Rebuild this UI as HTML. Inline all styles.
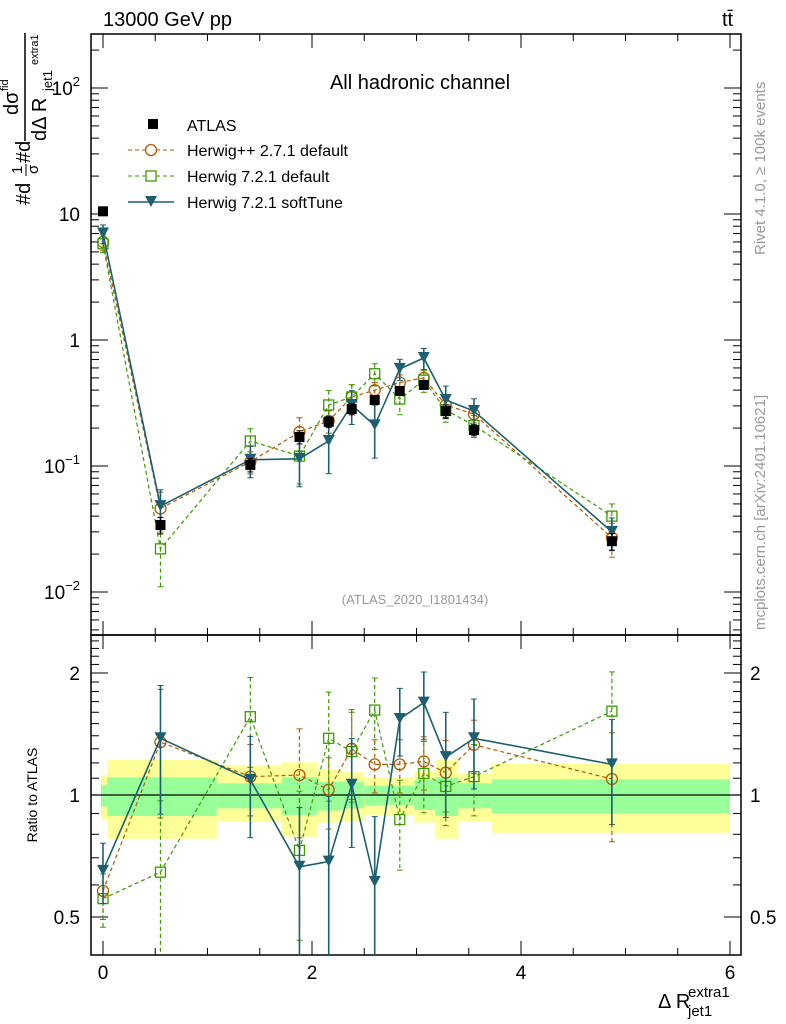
<!DOCTYPE html>
<html><head><meta charset="utf-8"><style>
body{margin:0;background:#fff}
svg{display:block;font-family:"Liberation Sans",sans-serif}
</style></head><body>
<svg id="c" width="786" height="1024" viewBox="0 0 786 1024" xmlns="http://www.w3.org/2000/svg">
<text x="103" y="26" font-size="20">13000 GeV pp</text>
<text x="722" y="26" font-size="20">tt̄</text>
<text x="420" y="89" font-size="20" text-anchor="middle">All hadronic channel</text>
<text x="415" y="604" font-size="13" fill="#999" text-anchor="middle">(ATLAS_2020_I1801434)</text>
<text transform="translate(765,255) rotate(-90)" font-size="15" fill="#999">Rivet 4.1.0, ≥ 100k events</text>
<text transform="translate(765,630) rotate(-90)" font-size="15" fill="#999">mcplots.cern.ch [arXiv:2401.10621]</text>
<g transform="translate(30,205) rotate(-90)">
<text x="0" y="0" font-size="20">#d</text>
<text x="31" y="-8" font-size="15">1</text><line x1="29" y1="-4" x2="41" y2="-4" stroke="#000"/><text x="31" y="8" font-size="15">σ</text>
<text x="42" y="0" font-size="20">#d</text>
<line x1="64" y1="-5" x2="172" y2="-5" stroke="#000" stroke-width="1.5"/>
<text x="90" y="-12" font-size="20">dσ</text><text x="114" y="-22" font-size="11">fid</text>
<text x="64" y="16" font-size="20">dΔ R</text><text x="114" y="22" font-size="13">jet1</text><text x="140" y="8" font-size="11">extra1</text>
</g>
<text transform="translate(37,795) rotate(-90)" font-size="14" text-anchor="middle">Ratio to ATLAS</text>
<g><text x="658" y="1008" font-size="20">Δ R</text><text x="688" y="1016" font-size="15">jet1</text><text x="688" y="997" font-size="15">extra1</text></g>
<g id="bands"></g><g id="axes"></g><g id="marks"></g>
<g>
<g><rect x="148" y="119" width="10" height="10"/><text x="187" y="131" font-size="16">ATLAS</text></g>
<g><line x1="128" y1="150" x2="174" y2="150" stroke="#b35900" stroke-dasharray="4,3"/><circle cx="151" cy="150" r="5.5" fill="#fff" stroke="#b35900" stroke-width="1.3"/><text x="187" y="156" font-size="16">Herwig++ 2.7.1 default</text></g>
<g><line x1="128" y1="176" x2="174" y2="176" stroke="#3a9a00" stroke-dasharray="4,3"/><rect x="146" y="171" width="10" height="10" fill="#fff" stroke="#3a9a00" stroke-width="1.3"/><text x="187" y="182" font-size="16">Herwig 7.2.1 default</text></g>
<g><line x1="128" y1="202" x2="174" y2="202" stroke="#1d5f6e" stroke-width="1.5"/><path d="M145,196 L157,196 L151,207 Z" fill="#1d5f6e"/><text x="187" y="208" font-size="16">Herwig 7.2.1 softTune</text></g>
</g>
</svg>
<script>
const xs=[0,0.55,1.41,1.88,2.16,2.38,2.6,2.84,3.07,3.28,3.55,4.87];
const atlas=[10.5,0.034,0.102,0.17,0.224,0.283,0.334,0.394,0.44,0.273,0.193,0.0253];
const atlasErr=[0.05,0.15,0.12,0.12,0.1,0.1,0.08,0.08,0.08,0.12,0.1,0.15];
const hpp=[6.0,0.046,0.108,0.186,0.228,0.353,0.40,0.46,0.50,0.305,0.258,0.027];
const hppErr=[0.15,0.35,0.2,0.3,0.2,0.25,0.15,0.15,0.15,0.2,0.15,0.3];
const h7=[5.8,0.022,0.158,0.12,0.305,0.353,0.54,0.34,0.48,0.278,0.21,0.04];
const h7Err=[0.15,0.5,0.25,0.4,0.3,0.25,0.2,0.25,0.2,0.2,0.2,0.25];
const soft=[7.0,0.048,0.112,0.114,0.158,0.305,0.21,0.59,0.72,0.334,0.273,0.03];
const softErr=[0.17,0.35,0.28,0.4,0.45,0.3,0.45,0.19,0.19,0.29,0.25,0.29];
const rHpp=[0.58,1.35,1.11,1.12,1.03,1.30,1.19,1.19,1.21,1.135,1.33,1.095];
const rH7=[0.555,0.645,1.56,0.73,1.38,1.28,1.62,0.87,1.13,1.05,1.11,1.61];
const rSoft=[0.65,1.38,1.09,0.665,0.685,1.06,0.61,1.54,1.69,1.24,1.38,1.19];
const binEdges=[-0.02,0.04,1.09,1.71,2.05,2.28,2.5,2.73,2.98,3.18,3.40,3.72,6.0];
const yelHi=[1.12,1.22,1.186,1.204,1.159,1.138,1.106,1.106,1.141,1.22,1.131,1.193];
const yelLo=[0.872,0.78,0.859,0.789,0.855,0.859,0.893,0.893,0.855,0.78,0.859,0.807];
const grnHi=[1.06,1.106,1.069,1.106,1.078,1.078,1.055,1.055,1.089,1.106,1.069,1.093];
const grnLo=[0.936,0.888,0.927,0.893,0.915,0.927,0.945,0.945,0.918,0.888,0.927,0.901];
const xTicks=[0,2,4,6];
const yTicks=[-2,-1,0,1,2];
const yTickLabels=["10","10","1","10","10"];
const yTickExp=["−2","−1","","","2"];
const rTicks=[0.5,1,2];
const rTickLabels=["0.5","1","2"];

const NS="http://www.w3.org/2000/svg";
const L=91,R=741,T=34,MB=635,RB=955;
const X=v=>103+v*104.5;
const Y=v=>340-Math.log10(v)*126;
const YR=v=>795-Math.log2(v)*122;
function mk(p,tag,a){const e=document.createElementNS(NS,tag);for(const k in a)e.setAttribute(k,a[k]);p.appendChild(e);return e;}
const bands=document.getElementById('bands'),axes=document.getElementById('axes'),marks=document.getElementById('marks');
for(let i=0;i<yelHi.length;i++){
 const x1=Math.max(X(binEdges[i]),L+1),x2=X(binEdges[i+1]);
 let r=mk(bands,'rect',{x:x1,y:YR(yelHi[i]),width:x2-x1,height:YR(yelLo[i])-YR(yelHi[i]),fill:'#ffff99'});
 
 
 r=mk(bands,'rect',{x:x1,y:YR(grnHi[i]),width:x2-x1,height:YR(grnLo[i])-YR(grnHi[i]),fill:'#99ff99'});
 
 
}
let ln=mk(axes,'line',{x1:L,y1:YR(1),x2:R,y2:YR(1),stroke:'#000','stroke-width':1.2});


let fr=mk(axes,'rect',{x:L,y:T,width:R-L,height:MB-T,fill:'none',stroke:'#000','stroke-width':1.5});


fr=mk(axes,'rect',{x:L,y:MB,width:R-L,height:RB-MB,fill:'none',stroke:'#000','stroke-width':1.5});


for(let v=0;v<=6.01;v+=0.5){const major=Math.abs(v-Math.round(v/2)*2)<0.01;const len=major?14:7;
 for(const [y0,d] of [[MB,-1],[T,1],[RB,-1],[MB,1]]) mk(axes,'line',{x1:X(v),y1:y0,x2:X(v),y2:y0+d*len,stroke:'#000'});}
xTicks.forEach(v=>{const t=mk(axes,'text',{x:X(v),y:979,'font-size':19,'text-anchor':'middle'});t.textContent=v;
 
 });
for(let d=-3;d<=2;d++){for(let m=1;m<10;m++){const v=m*Math.pow(10,d);const y=Y(v);if(y<T||y>MB)continue;const len=m==1?17:8;
 mk(axes,'line',{x1:L,y1:y,x2:L+len,y2:y,stroke:'#000'});mk(axes,'line',{x1:R,y1:y,x2:R-len,y2:y,stroke:'#000'});}}
yTicks.forEach((d,i)=>{const g=mk(axes,'text',{x:80,y:Y(Math.pow(10,d))+7,'font-size':19,'text-anchor':'end'});
 
 
 const b=mk(g,'tspan',{});b.textContent=yTickLabels[i];
 if(yTickExp[i]){const s=mk(g,'tspan',{dy:-9,'font-size':13});s.textContent=yTickExp[i];}});
for(let v=0.4;v<=2.5;v+=0.1){const y=YR(v);if(y<MB||y>RB)continue;const major=rTicks.some(t=>Math.abs(t-v)<0.01);const len=major?17:8;
 mk(axes,'line',{x1:L,y1:y,x2:L+len,y2:y,stroke:'#000'});mk(axes,'line',{x1:R,y1:y,x2:R-len,y2:y,stroke:'#000'});}
rTicks.forEach((v,i)=>{for(const [x,a] of [[80,'end'],[750,'start']]){const t=mk(axes,'text',{x:x,y:YR(v)+7,'font-size':19,'text-anchor':a});t.textContent=rTickLabels[i];
 
 }});
const defs=mk(document.getElementById('c'),'defs',{});
const c1=mk(defs,'clipPath',{id:'cm'});mk(c1,'rect',{x:L,y:T,width:R-L,height:MB-T});
const c2=mk(defs,'clipPath',{id:'cr'});mk(c2,'rect',{x:L,y:MB,width:R-L,height:RB-MB});
function marker(g,shape,x,y,col){
 if(shape=='circle')mk(g,'circle',{cx:x,cy:y,r:5.5,fill:'none',stroke:col,'stroke-width':1.3});
 else if(shape=='square')mk(g,'rect',{x:x-5,y:y-5,width:10,height:10,fill:'none',stroke:col,'stroke-width':1.3});
 else if(shape=='tri')mk(g,'path',{d:`M${x-6},${y-6} L${x+6},${y-6} L${x},${y+5} Z`,fill:col});
 else mk(g,'rect',{x:x-5,y:y-5,width:10,height:10,fill:col});
}
function series(name,vals,errs,Yf,clip,col,dash,shape,width,line){
 const g=mk(marks,'g',{'clip-path':`url(#${clip})`});
 
 
 if(line){const pts=xs.map((x,i)=>X(x)+','+Yf(vals[i])).join(' ');
  mk(g,'polyline',{points:pts,fill:'none',stroke:col,'stroke-width':width,'stroke-dasharray':dash||'none'});}
 xs.forEach((x,i)=>{const v=vals[i],e=errs[i];const y1=Yf(v*(1+e)),y2=Yf(Math.max(v*(1-e),1e-6));
  mk(g,'line',{x1:X(x),y1:y1,x2:X(x),y2:y2,stroke:col,'stroke-width':width,'stroke-dasharray':dash||'none'});
  mk(g,'line',{x1:X(x)-3,y1:y1,x2:X(x)+3,y2:y1,stroke:col,'stroke-width':1});
  mk(g,'line',{x1:X(x)-3,y1:y2,x2:X(x)+3,y2:y2,stroke:col,'stroke-width':1});
  marker(g,shape,X(x),Yf(v),col);});
}
series('herwigpp-main',hpp,hppErr,Y,'cm','#b35900','4,3','circle',1.2,true);
series('herwig721-main',h7,h7Err,Y,'cm','#3a9a00','4,3','square',1.2,true);
series('softtune-main',soft,softErr,Y,'cm','#1d5f6e',null,'tri',1.6,true);
series('atlas-data',atlas,atlasErr,Y,'cm','#000',null,'sq',1.2,false);
series('herwigpp-ratio',rHpp,hppErr,YR,'cr','#b35900','4,3','circle',1.2,true);
series('herwig721-ratio',rH7,h7Err,YR,'cr','#3a9a00','4,3','square',1.2,true);
series('softtune-ratio',rSoft,softErr,YR,'cr','#1d5f6e',null,'tri',1.6,true);
</script>
</body></html>
